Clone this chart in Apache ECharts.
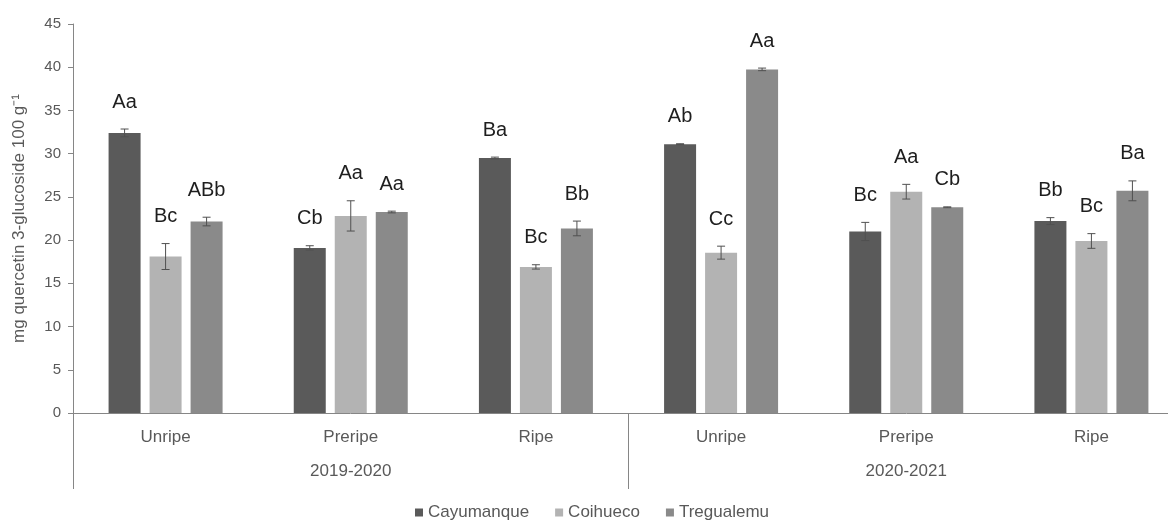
<!DOCTYPE html>
<html>
<head>
<meta charset="utf-8">
<title>Quercetin 3-glucoside by cultivar and ripening stage</title>
<script src="https://cdn.jsdelivr.net/npm/echarts@6/dist/echarts.min.js"></script>
<style>
  html, body { margin: 0; padding: 0; background: #ffffff; overflow: hidden; }
  /* the plot area runs past the right edge of the page, so the canvas is wider than the view */
  #chart { width: 1184px; height: 525px; }
</style>
</head>
<body>
<div id="chart"></div>
<script>
// Ripening stages (inner axis level) and seasons (outer axis level)
const stages = ['Unripe', 'Preripe', 'Ripe', 'Unripe', 'Preripe', 'Ripe'];
const seasons = ['2019-2020', '2020-2021'];
const cultivars = ['Cayumanque', 'Coihueco', 'Tregualemu'];

// Mean content, mg quercetin 3-glucoside 100 g-1
const cayumanque = [32.4, 19.1, 29.5, 31.1, 21.0, 22.2];
const coihueco = [18.1, 22.8, 16.9, 18.55, 25.6, 19.9];
const tregualemu = [22.15, 23.25, 21.35, 39.75, 23.8, 25.7];

// Standard errors
const cayumanqueErr = [0.45, 0.25, 0.1, 0.05, 1.05, 0.4];
const coihuecoErr = [1.5, 1.75, 0.25, 0.75, 0.85, 0.85];
const tregualemuErr = [0.5, 0.1, 0.85, 0.15, 0.05, 1.15];

// Significance letters
const cayumanqueLetters = ['Aa', 'Cb', 'Ba', 'Ab', 'Bc', 'Bb'];
const coihuecoLetters = ['Bc', 'Aa', 'Bc', 'Cc', 'Aa', 'Bc'];
const tregualemuLetters = ['ABb', 'Aa', 'Bb', 'Aa', 'Cb', 'Ba'];

// Y-axis ticks
const yMin = 0, yMax = 45, yStep = 5;

const values = [cayumanque, coihueco, tregualemu];
const errors = [cayumanqueErr, coihuecoErr, tregualemuErr];
const letters = [cayumanqueLetters, coihuecoLetters, tregualemuLetters];
const colors = ['#5a5a5a', '#b3b3b3', '#8a8a8a'];

const BAR_W = 32;
const BAR_GAP = 9;
const CAP_HALF = 4;
const LETTER_LIFT = 27;
const axisGray = '#868686';
const textGray = '#595959';

const chart = echarts.init(document.getElementById('chart'), null, { renderer: 'canvas' });

const barSeries = cultivars.map((name, s) => ({
  name: name,
  type: 'bar',
  xAxisIndex: 0,
  barWidth: BAR_W,
  barGap: (BAR_GAP / BAR_W * 100) + '%',
  itemStyle: { color: colors[s] },
  data: values[s],
  z: 2
}));

// Error bars and letters, drawn over each bar through the axes' coordinate system
const errSeries = cultivars.map((name, s) => ({
  name: name + ' SE',
  type: 'custom',
  xAxisIndex: 0,
  z: 3,
  silent: true,
  encode: { x: 0, y: 1 },
  data: values[s].map((v, i) => [i, v, errors[s][i]]),
  renderItem: function (params, api) {
    const i = api.value(0);
    const v = api.value(1);
    const e = api.value(2);
    const dx = (s - 1) * (BAR_W + BAR_GAP);
    const hi = api.coord([i, v + e]);
    const lo = api.coord([i, v - e]);
    const x = hi[0] + dx;
    const lineStyle = { stroke: '#505050', lineWidth: 1 };
    return {
      type: 'group',
      children: [
        { type: 'line', shape: { x1: x, y1: hi[1], x2: x, y2: lo[1] }, style: lineStyle },
        { type: 'line', shape: { x1: x - CAP_HALF, y1: hi[1], x2: x + CAP_HALF, y2: hi[1] }, style: lineStyle },
        { type: 'line', shape: { x1: x - CAP_HALF, y1: lo[1], x2: x + CAP_HALF, y2: lo[1] }, style: lineStyle },
        {
          type: 'text',
          x: x,
          y: hi[1] - LETTER_LIFT,
          style: {
            text: letters[s][params.dataIndex],
            fill: '#1e1e1e',
            font: '20px "Liberation Sans", Arial, sans-serif',
            align: 'center',
            verticalAlign: 'middle'
          }
        }
      ]
    };
  }
}));

chart.setOption({
  animation: false,
  backgroundColor: '#ffffff',
  textStyle: { fontFamily: '"Liberation Sans", Arial, sans-serif' },
  grid: { left: 73, top: 24, right: 0, bottom: 112, containLabel: false },
  legend: {
    data: cultivars,
    bottom: -1,
    left: 'center',
    icon: 'rect',
    itemWidth: 8,
    itemHeight: 8,
    itemGap: 26,
    textStyle: { color: textGray, fontSize: 17 }
  },
  xAxis: [
    {
      type: 'category',
      data: stages,
      position: 'bottom',
      axisLine: { lineStyle: { color: axisGray, width: 1 } },
      axisTick: { show: false },
      axisLabel: { color: textGray, fontSize: 17, margin: 16, interval: 0 }
    },
    {
      type: 'category',
      data: seasons,
      position: 'bottom',
      boundaryGap: true,
      axisLine: { show: false },
      axisTick: { show: true, length: 76, interval: 0, lineStyle: { color: axisGray, width: 1 } },
      axisLabel: { color: textGray, fontSize: 17, margin: 50, interval: 0 }
    }
  ],
  yAxis: {
    type: 'value',
    min: yMin,
    max: yMax,
    interval: yStep,
    name: 'mg quercetin 3-glucoside 100 g\u207B\u00B9',
    nameLocation: 'middle',
    nameGap: 45,
    nameTextStyle: { color: textGray, fontSize: 17 },
    axisLine: { show: true, lineStyle: { color: axisGray, width: 1 } },
    axisTick: { show: true, length: 5, lineStyle: { color: axisGray } },
    axisLabel: { color: textGray, fontSize: 15, margin: 12 },
    splitLine: { show: false }
  },
  series: barSeries.concat(errSeries)
});
</script>
</body>
</html>
